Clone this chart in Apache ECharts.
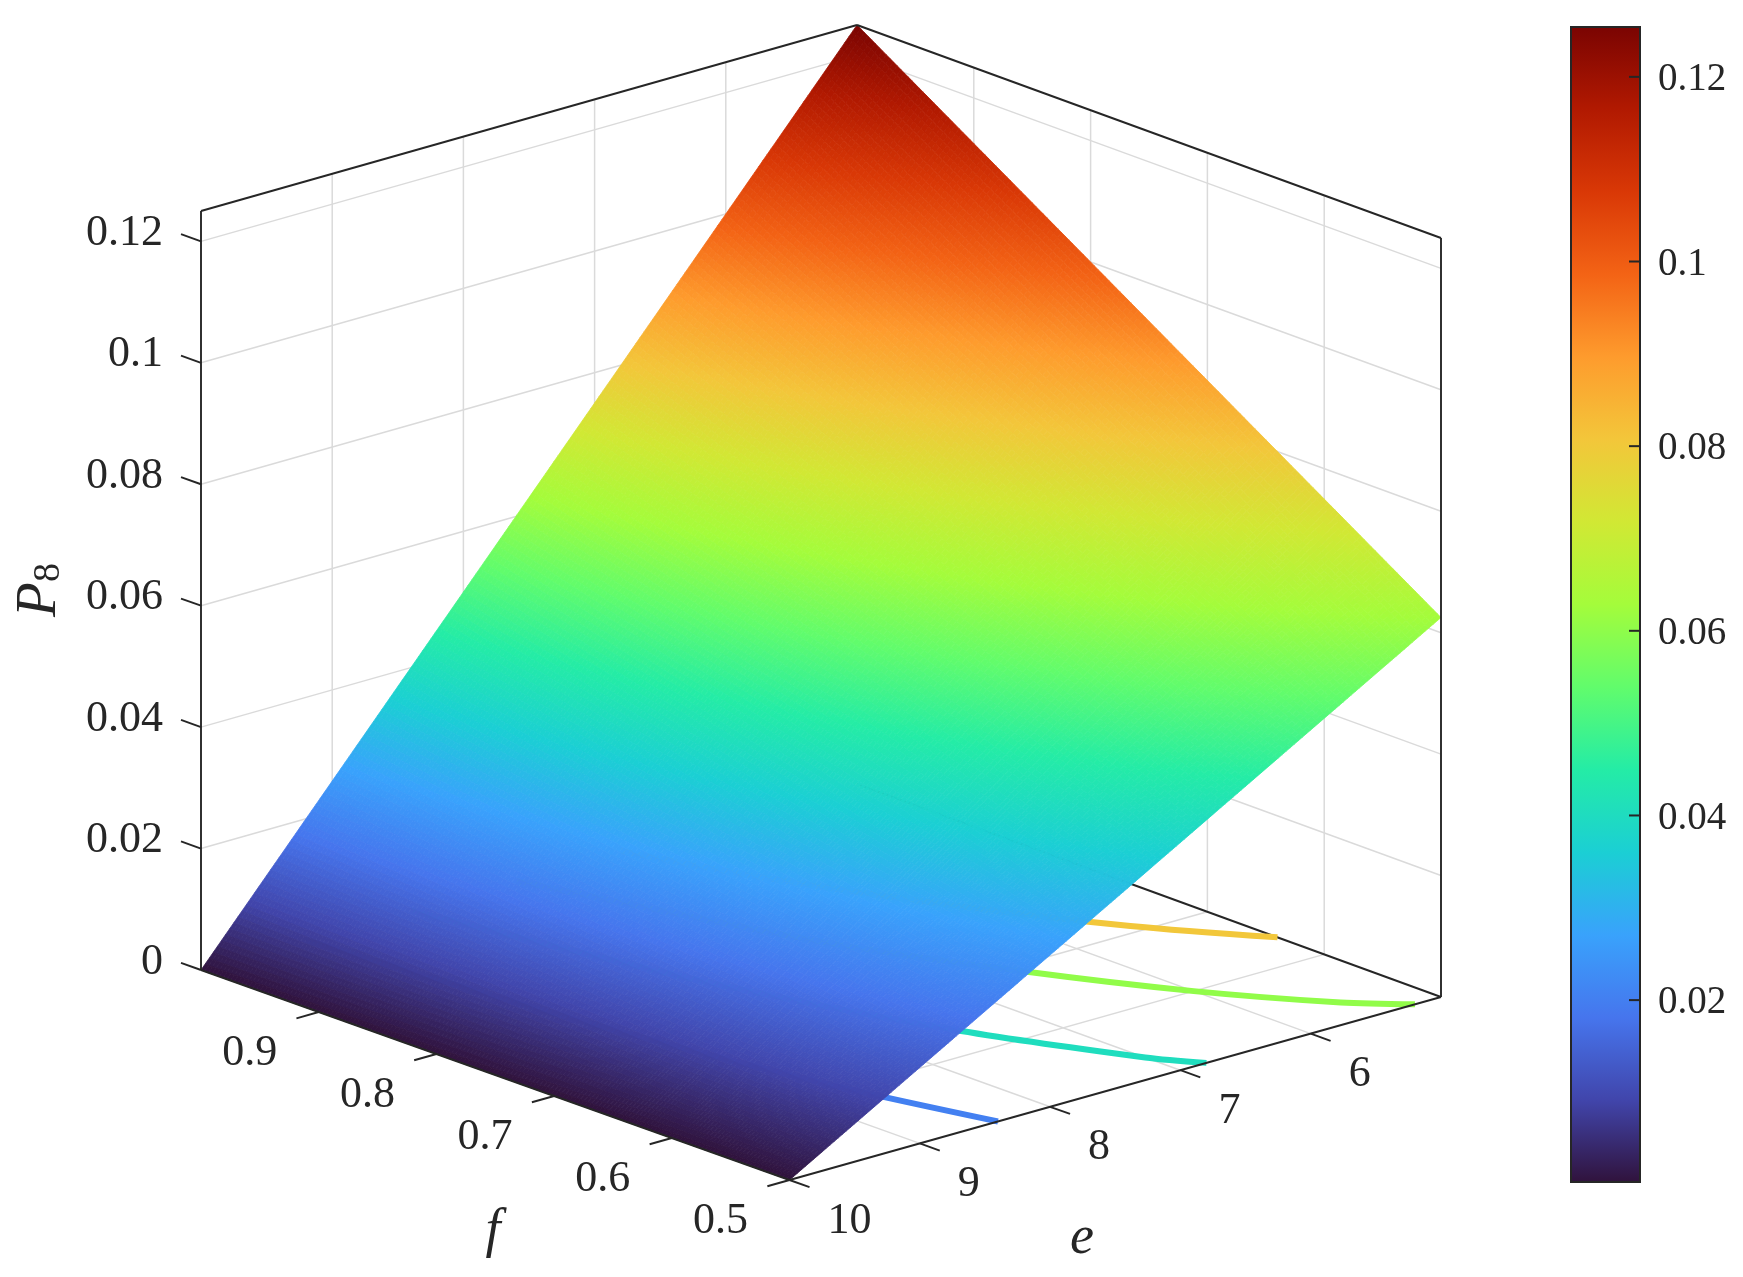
<!DOCTYPE html>
<html>
<head>
<meta charset="utf-8">
<title>P8 surface</title>
<style>
  html, body { margin: 0; padding: 0; background: #fff; }
  #main { width: 1743px; height: 1277px; }
</style>
<script src="https://cdn.jsdelivr.net/npm/echarts@6/dist/echarts.min.js"></script>
</head>
<body>
<div id="main"></div>
<script>
// axis ticks
var eTicks = [10, 9, 8, 7, 6];
var eTickLabels = ['10', '9', '8', '7', '6'];
var fTicks = [0.9, 0.8, 0.7, 0.6, 0.5];
var fTickLabels = ['0.9', '0.8', '0.7', '0.6', '0.5'];
var pTicks = [0, 0.02, 0.04, 0.06, 0.08, 0.1, 0.12];
var pTickLabels = ['0', '0.02', '0.04', '0.06', '0.08', '0.1', '0.12'];
var barTicks = [0.02, 0.04, 0.06, 0.08, 0.1, 0.12];
var barTickLabels = ['0.02', '0.04', '0.06', '0.08', '0.1', '0.12'];

// surface samples, one row per f, one column per e
var eValues = [5, 6, 7, 8, 9, 10];
var fValues = [0.5, 0.6, 0.7, 0.8, 0.9, 1];
var pAtF05 = [0.0625, 0.05, 0.0375, 0.025, 0.0125, 0];
var pAtF06 = [0.075, 0.06, 0.045, 0.03, 0.015, 0];
var pAtF07 = [0.0875, 0.07, 0.0525, 0.035, 0.0175, 0];
var pAtF08 = [0.1, 0.08, 0.06, 0.04, 0.02, 0];
var pAtF09 = [0.1125, 0.09, 0.0675, 0.045, 0.0225, 0];
var pAtF10 = [0.125, 0.1, 0.075, 0.05, 0.025, 0];
var pRows = [pAtF05, pAtF06, pAtF07, pAtF08, pAtF09, pAtF10];

// contour lines on the floor, [e, f]
var contourLevels = [0.02, 0.04, 0.06, 0.08];
var contour002 = [[8.4, 0.5], [8.7, 0.62], [9, 0.8], [9.2, 1]];
var contour004 = [[6.8, 0.5], [7, 0.53], [7.5, 0.64], [8, 0.8], [8.4, 1]];
var contour006 = [[5.2, 0.5], [5.5, 0.53], [6, 0.6], [6.5, 0.69], [7, 0.8], [7.6, 1]];
var contour008 = [[5, 0.64], [5.5, 0.71], [6, 0.8], [6.5, 0.91], [6.8, 1]];
var contours = [contour002, contour004, contour006, contour008];

// colorbar range and colormap
var barMin = 0.0003;
var barMax = 0.1254;
var colorMax = 0.125;
var turboStops = ['#30123b', '#4145ab', '#4675ed', '#39a2fc', '#1bcfd4', '#24eca6', '#61fc6c', '#a4fc3b',
    '#d1e834', '#f3c63a', '#fe9b2d', '#f36315', '#d93806', '#b11901', '#7a0402'];

var SERIF = '"Liberation Serif", "Times New Roman", serif';
var TEXT_COLOR = '#262626';
var BOX_COLOR = '#262626';
var GRID_COLOR = '#dadada';

// box corners on the page
var front = [789.5, 1180];
var eVec = [651.5, -183];
var fVec = [-588.5, -210];
var pVec = [0, -759];
var backSkew = [4.5, -3]; // the far corner sits a little off the parallelogram

function project(e, f, p) {
    var u = (10 - e) / 5, v = (f - 0.5) / 0.5, w = p / 0.125;
    return [front[0] + u * eVec[0] + v * fVec[0] + u * v * backSkew[0] + w * pVec[0],
            front[1] + u * eVec[1] + v * fVec[1] + u * v * backSkew[1] + w * pVec[1]];
}

function hexToRgb(h) {
    return [parseInt(h.substr(1, 2), 16), parseInt(h.substr(3, 2), 16), parseInt(h.substr(5, 2), 16)];
}
var turboRgb = turboStops.map(hexToRgb);

function turbo(value) {
    var t = Math.max(0, Math.min(1, value / colorMax)) * (turboRgb.length - 1);
    var i = Math.min(Math.floor(t), turboRgb.length - 2), k = t - i;
    var a = turboRgb[i], b = turboRgb[i + 1];
    return 'rgb(' + Math.round(a[0] + (b[0] - a[0]) * k) + ',' + Math.round(a[1] + (b[1] - a[1]) * k) + ',' +
        Math.round(a[2] + (b[2] - a[2]) * k) + ')';
}

// wall and floor grid lines, [e1, f1, p1, e2, f2, p2]
var gridLines = [];
eTicks.slice(1).forEach(function (e) {
    gridLines.push([e, 1, 0, e, 1, 0.125]);
    gridLines.push([e, 0.5, 0, e, 1, 0]);
});
fTicks.slice(0, 4).forEach(function (f) {
    gridLines.push([5, f, 0, 5, f, 0.125]);
    gridLines.push([5, f, 0, 10, f, 0]);
});
pTicks.slice(1).forEach(function (p) {
    gridLines.push([10, 1, p, 5, 1, p]);
    gridLines.push([5, 1, p, 5, 0.5, p]);
});

// box edge behind the surface
var hiddenBoxLines = [[5, 0.5, 0, 5, 1, 0]];

// box edges
var boxLines = [
    [10, 1, 0, 10, 1, 0.125],
    [10, 1, 0.125, 5, 1, 0.125],
    [5, 1, 0.125, 5, 0.5, 0.125],
    [5, 0.5, 0.125, 5, 0.5, 0],
    [10, 1, 0, 10, 0.5, 0],
    [10, 0.5, 0, 5, 0.5, 0]
];
// tick stubs
eTicks.forEach(function (e) { boxLines.push([e, 0.5, 0, e, 0.483, 0]); });
fTicks.forEach(function (f) { boxLines.push([10, f, 0, 10.17, f, 0]); });
pTicks.forEach(function (p) { boxLines.push([10, 1, p, 10, 1.017, p]); });

function lineItem(color, width) {
    return function (params, api) {
        var a = project(api.value(0), api.value(1), api.value(2));
        var b = project(api.value(3), api.value(4), api.value(5));
        var p1 = api.coord(a), p2 = api.coord(b);
        return {
            type: 'line',
            shape: { x1: p1[0], y1: p1[1], x2: p2[0], y2: p2[1] },
            style: { stroke: color, lineWidth: width, fill: null }
        };
    };
}

// surface cells, each one shaded in small steps between its four samples
var cells = [];
for (var ci = 0; ci < fValues.length - 1; ci++) {
    for (var cj = 0; cj < eValues.length - 1; cj++) {
        cells.push([ci, cj]);
    }
}
var CELL_STEPS = 32;

function renderCell(params, api) {
    var i = api.value(0), j = api.value(1);
    var f0 = fValues[i], f1 = fValues[i + 1], e0 = eValues[j], e1 = eValues[j + 1];
    var p00 = pRows[i][j], p01 = pRows[i][j + 1], p10 = pRows[i + 1][j], p11 = pRows[i + 1][j + 1];
    function at(a, b) {
        var p = (p00 * (1 - b) + p01 * b) * (1 - a) + (p10 * (1 - b) + p11 * b) * a;
        return { xy: api.coord(project(e0 + (e1 - e0) * b, f0 + (f1 - f0) * a, p)), p: p };
    }
    var children = [];
    for (var s = 0; s < CELL_STEPS; s++) {
        for (var t = 0; t < CELL_STEPS; t++) {
            var a0 = s / CELL_STEPS, a1 = (s + 1) / CELL_STEPS, b0 = t / CELL_STEPS, b1 = (t + 1) / CELL_STEPS;
            var c = turbo(at((a0 + a1) / 2, (b0 + b1) / 2).p);
            children.push({
                type: 'polygon',
                shape: { points: [at(a0, b0).xy, at(a0, b1).xy, at(a1, b1).xy, at(a1, b0).xy] },
                style: { fill: c, stroke: c, lineWidth: 0.8 }
            });
        }
    }
    return { type: 'group', children: children };
}

// text around the box, [kind, index]
var labelItems = [];
eTicks.forEach(function (e, i) { labelItems.push(['e', i]); });
fTicks.forEach(function (f, i) { labelItems.push(['f', i]); });
pTicks.forEach(function (p, i) { labelItems.push(['p', i]); });

function textEl(x, y, text, align, size) {
    return {
        type: 'text', x: x, y: y,
        style: { text: text, fill: TEXT_COLOR, fontFamily: SERIF, fontSize: size || 44, align: align, verticalAlign: 'middle' }
    };
}

function renderLabel(params, api) {
    var item = labelItems[params.dataIndex], i = item[1], xy;
    if (item[0] === 'e') {
        xy = api.coord(project(eTicks[i], 0.5, 0));
        return textEl(xy[0] + 38, xy[1] + 41, eTickLabels[i], 'left');
    }
    if (item[0] === 'f') {
        xy = api.coord(project(10, fTicks[i], 0));
        return textEl(xy[0] - 69, xy[1] + 41, fTickLabels[i], 'center');
    }
    xy = api.coord(project(10, 1, pTicks[i]));
    return textEl(xy[0] - 38, xy[1] - 8, pTickLabels[i], 'right');
}

function renderBar(params, api) {
    var lo = api.coord([0, api.value(1)]), hi = api.coord([1, api.value(2)]);
    var colors = turboStops.map(function (c, i) {
        return { offset: 1 - i / (turboStops.length - 1), color: c };
    }).reverse();
    var children = [{
        type: 'rect',
        shape: { x: lo[0], y: hi[1], width: hi[0] - lo[0], height: lo[1] - hi[1] },
        style: {
            fill: new echarts.graphic.LinearGradient(0, 0, 0, 1, colors),
            stroke: BOX_COLOR, lineWidth: 2
        }
    }];
    barTicks.forEach(function (v, i) {
        var y = api.coord([1, v])[1];
        children.push({
            type: 'line',
            shape: { x1: hi[0] - 11, y1: y, x2: hi[0], y2: y },
            style: { stroke: BOX_COLOR, lineWidth: 2, fill: null }
        });
        children.push(textEl(hi[0] + 18, y + 3, barTickLabels[i], 'left', 39));
    });
    return { type: 'group', children: children };
}

var titleText = [
    { type: 'text', x: 493, y: 1232, style: { text: 'f', fill: TEXT_COLOR, fontFamily: SERIF, fontStyle: 'italic', fontSize: 54, align: 'center', verticalAlign: 'middle' } },
    { type: 'text', x: 1082, y: 1239, style: { text: 'e', fill: TEXT_COLOR, fontFamily: SERIF, fontStyle: 'italic', fontSize: 54, align: 'center', verticalAlign: 'middle' } },
    {
        type: 'text', x: 40, y: 590, rotation: Math.PI / 2,
        style: {
            text: '{p|P}{s|8}', fill: TEXT_COLOR, align: 'center', verticalAlign: 'middle',
            rich: {
                p: { fontFamily: SERIF, fontStyle: 'italic', fontSize: 57, fill: TEXT_COLOR },
                s: { fontFamily: SERIF, fontSize: 38, fill: TEXT_COLOR, verticalAlign: 'bottom' }
            }
        }
    }
];

var series = [
    {
        type: 'custom', name: 'grid', z: 1, silent: true, clip: false,
        renderItem: lineItem(GRID_COLOR, 1.5),
        data: gridLines
    },
    {
        type: 'custom', name: 'box back', z: 1, silent: true, clip: false,
        renderItem: lineItem(BOX_COLOR, 1.9),
        data: hiddenBoxLines
    }
];
contours.forEach(function (pts, i) {
    series.push({
        type: 'line', name: 'P=' + contourLevels[i], z: 2, silent: true, clip: false,
        showSymbol: false, smooth: 0.3,
        lineStyle: { color: turbo(contourLevels[i]), width: 6 },
        data: pts.map(function (d) { return project(d[0], d[1], 0); })
    });
});
series.push(
    {
        type: 'custom', name: 'surface', z: 3, silent: true, clip: false,
        renderItem: renderCell,
        data: cells
    },
    {
        type: 'custom', name: 'box', z: 4, silent: true, clip: false,
        renderItem: lineItem(BOX_COLOR, 1.9),
        data: boxLines
    },
    {
        type: 'custom', name: 'labels', z: 5, silent: true, clip: false,
        renderItem: renderLabel,
        data: labelItems.map(function (d, i) { return [i]; })
    },
    {
        type: 'custom', name: 'titles', z: 5, silent: true, clip: false,
        renderItem: function (params) { return titleText[params.dataIndex]; },
        data: [[0], [1], [2]]
    },
    {
        type: 'custom', name: 'colorbar', xAxisIndex: 1, yAxisIndex: 1, z: 1, silent: true, clip: false,
        renderItem: renderBar,
        data: [[0, barMin, barMax]]
    }
);

var myChart = echarts.init(document.getElementById('main'));
var option = {
    animation: false,
    backgroundColor: '#fff',
    grid: [
        { left: 0, top: 0, width: 1743, height: 1277 },
        { left: 1571, top: 27, width: 69, height: 1155 }
    ],
    xAxis: [
        { type: 'value', gridIndex: 0, min: 0, max: 1743, show: false },
        { type: 'value', gridIndex: 1, min: 0, max: 1, show: false }
    ],
    yAxis: [
        { type: 'value', gridIndex: 0, min: 0, max: 1277, inverse: true, show: false },
        { type: 'value', gridIndex: 1, min: barMin, max: barMax, show: false }
    ],
    series: series
};
myChart.setOption(option);
</script>
</body>
</html>
